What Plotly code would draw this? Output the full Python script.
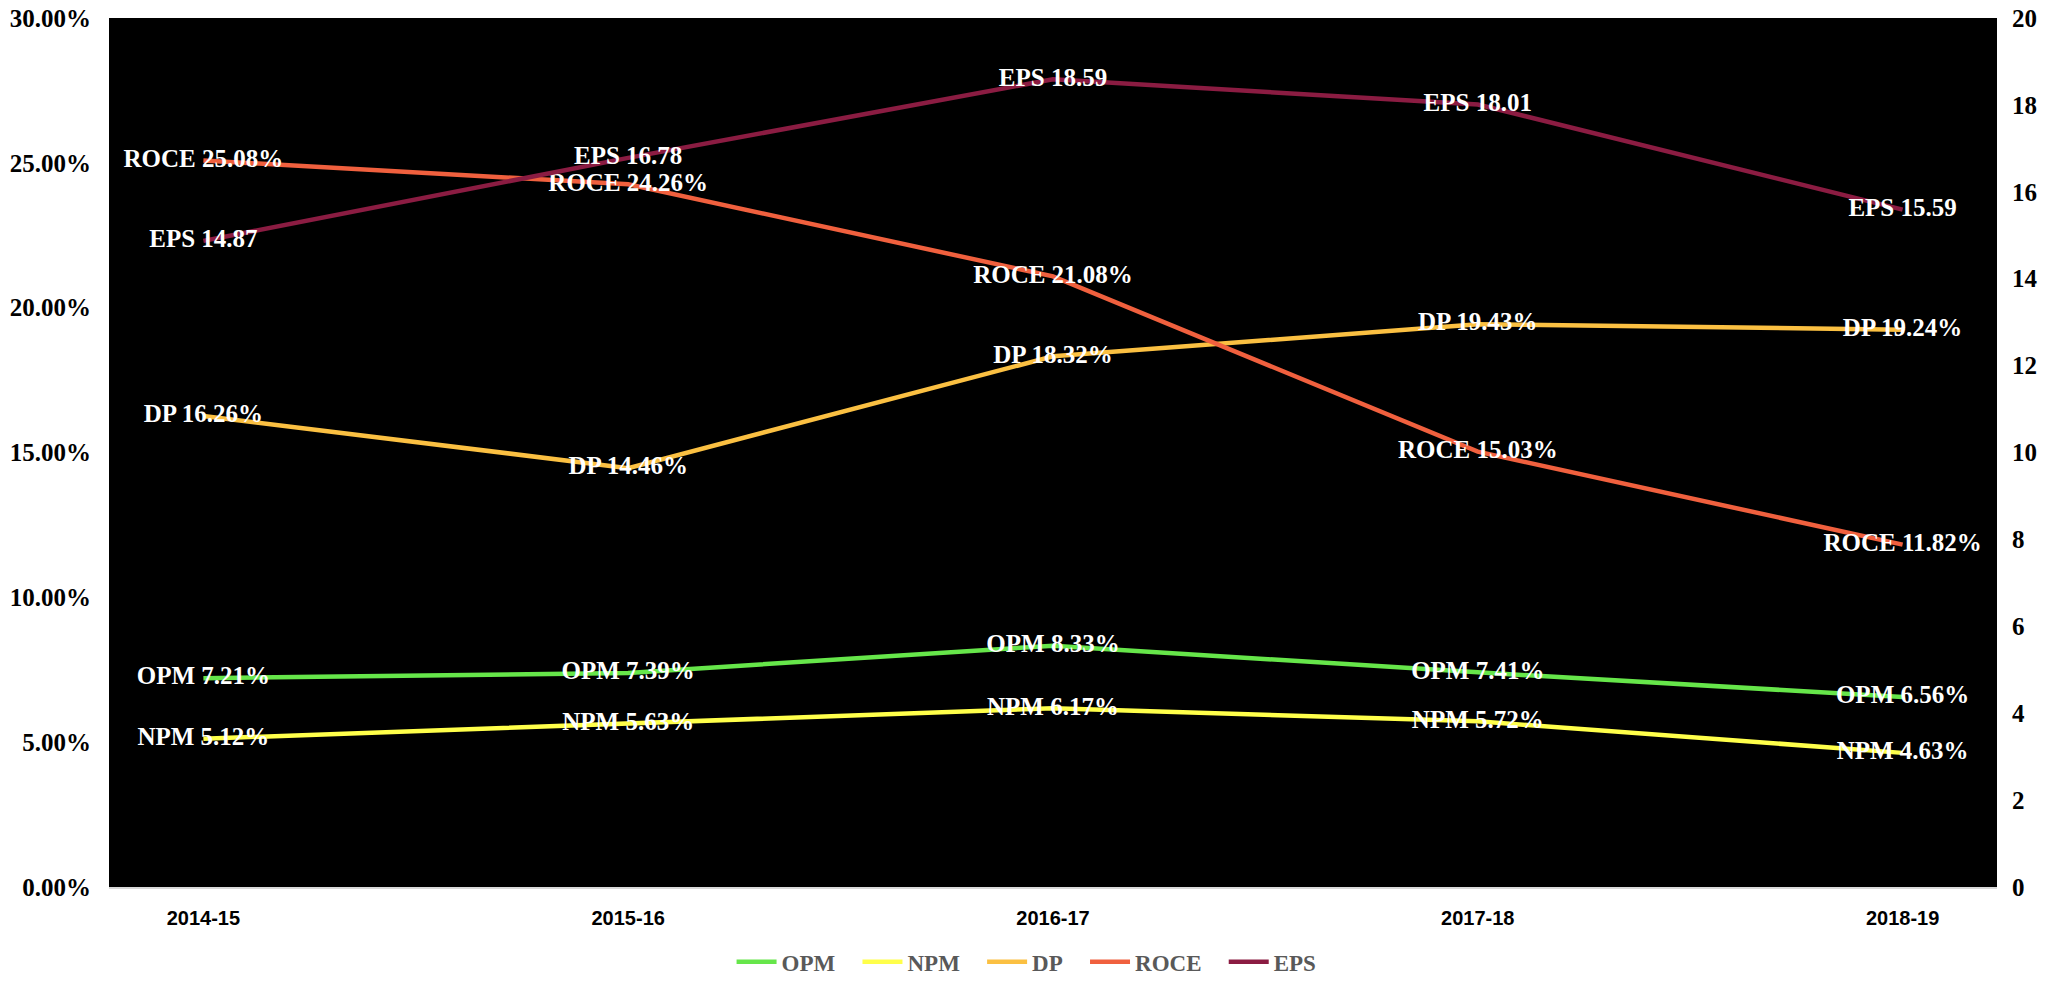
import plotly.graph_objects as go

years = ["2014-15", "2015-16", "2016-17", "2017-18", "2018-19"]
opm = [7.21, 7.39, 8.33, 7.41, 6.56]
npm = [5.12, 5.63, 6.17, 5.72, 4.63]
dp = [16.26, 14.46, 18.32, 19.43, 19.24]
roce = [25.08, 24.26, 21.08, 15.03, 11.82]
eps = [14.87, 16.78, 18.59, 18.01, 15.59]

left_ticks = [0, 5, 10, 15, 20, 25, 30]
right_ticks = [0, 2, 4, 6, 8, 10, 12, 14, 16, 18, 20]

SERIF = "Liberation Serif"
label_font = dict(family=SERIF, size=25, color="white", weight="bold")
PAD = "\u00a0\u00a0\u00a0"

series = [
    ("OPM", opm, "#66E64A", "y", "OPM %{y:.2f}%"),
    ("NPM", npm, "#FFFF4A", "y", "NPM %{y:.2f}%"),
    ("DP", dp, "#FBC042", "y", "DP %{y:.2f}%"),
    ("ROCE", roce, "#F0603E", "y", "ROCE %{y:.2f}%"),
    ("EPS", eps, "#8B1C42", "y2", "EPS %{y:.2f}"),
]

fig = go.Figure()
for i, (name, vals, color, axis, tmpl) in enumerate(series):
    fig.add_trace(go.Scatter(
        x=years, y=vals, name=name + (PAD if i < len(series) - 1 else ""),
        yaxis=axis,
        mode="lines+text",
        line=dict(color=color, width=4.5),
        texttemplate=tmpl,
        textposition="middle center",
        textfont=label_font,
        hoverinfo="skip",
    ))

fig.update_layout(
    width=2049, height=985,
    paper_bgcolor="white",
    plot_bgcolor="black",
    margin=dict(l=109, r=52, t=18, b=98, autoexpand=False),
    showlegend=True,
    legend=dict(
        orientation="h",
        x=0.486, xanchor="center",
        y=-0.086, yanchor="middle",
        font=dict(family=SERIF, size=23, color="#595959", weight="bold"),
        itemwidth=40,
        tracegroupgap=0,
        bgcolor="rgba(0,0,0,0)",
    ),
    xaxis=dict(
        type="category",
        automargin=False,
        showgrid=False,
        showline=True, linecolor="#D9D9D9", linewidth=2,
        ticks="",
        ticklabelstandoff=12,
        tickfont=dict(family="Liberation Sans", size=20, color="black", weight="bold"),
        zeroline=False,
    ),
    yaxis=dict(
        range=[0, 30],
        automargin=False,
        tickvals=left_ticks,
        ticktext=[f"{v:.2f}%" for v in left_ticks],
        showgrid=False, zeroline=False, showline=False,
        ticks="",
        ticklabelstandoff=17,
        ticklabeloverflow="allow",
        tickfont=dict(family=SERIF, size=25, color="black", weight="bold"),
    ),
    yaxis2=dict(
        range=[0, 20],
        automargin=False,
        tickvals=right_ticks,
        overlaying="y", side="right",
        showgrid=False, zeroline=False, showline=False,
        ticks="",
        ticklabelstandoff=14,
        ticklabeloverflow="allow",
        tickfont=dict(family=SERIF, size=25, color="black", weight="bold"),
    ),
)

fig.write_html(
    "out.html",
    config={"displayModeBar": False},
    post_script="document.body.style.margin='0';document.body.style.overflow='hidden';",
)
